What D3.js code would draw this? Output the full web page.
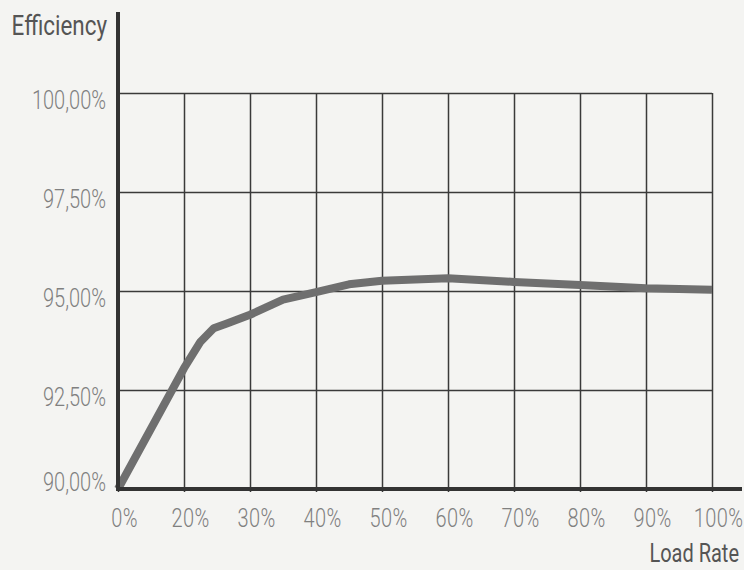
<!DOCTYPE html>
<html>
<head>
<meta charset="utf-8">
<script src="https://cdn.jsdelivr.net/npm/d3@7"></script>
<style>
  body { margin: 0; background: #f4f4f2; }
  svg { display: block; font-family: Roboto, "Noto Sans", sans-serif; }
</style>
</head>
<body>
<svg id="chart" width="744" height="570"></svg>
<script>
// ── Data ─────────────────────────────────────────────────────────────────────
const loadRate   = [0, 20, 22.5, 24.5, 26.5, 30, 35, 40, 45, 50, 60, 70, 80, 90, 100];
const efficiency = [90.0, 93.05, 93.72, 94.06, 94.18, 94.4, 94.78, 94.97, 95.17, 95.26, 95.32, 95.23, 95.15, 95.07, 95.03];
const xTicks = [0, 20, 30, 40, 50, 60, 70, 80, 90, 100];
const yTicks = [90, 92.5, 95, 97.5, 100];

// ── Layout ───────────────────────────────────────────────────────────────────
const plotLeft = 118, plotRight = 712, plotTop = 93, plotBottom = 489;
const squeeze = 0.8; // the original type is a condensed face
const svg = d3.select("#chart");

// The axis puts 0% one step before 20%, then 10% per step
const x = d3.scaleLinear()
  .domain([0, 20, 100])
  .range([plotLeft, plotLeft + (plotRight - plotLeft) / 9, plotRight]);
const y = d3.scaleLinear().domain([90, 100]).range([plotBottom, plotTop]);

const comma = d3.formatLocale({ decimal: ",", thousands: ".", grouping: [3], currency: ["", ""] });
const yFmt = (d) => comma.format(".2f")(d) + "%";

// ── Grid + tick labels ───────────────────────────────────────────────────────
const gx = svg.append("g")
  .attr("transform", `translate(0,${plotBottom})`)
  .call(d3.axisBottom(x).tickValues(xTicks).tickSize(-(plotBottom - plotTop)).tickSizeOuter(0).tickFormat((d) => d + "%"));
gx.attr("font-family", null).attr("font-size", null);
gx.select(".domain").remove();
gx.selectAll(".tick line").attr("stroke", "#3a3a3a").attr("stroke-width", 1.5).attr("y1", 3);
gx.selectAll(".tick text")
  .attr("x", 0).attr("y", 0).attr("dy", 0)
  .attr("transform", `translate(6,38) scale(${squeeze},1)`)
  .attr("fill", "#808080").attr("font-size", 25).attr("font-weight", 300)
  .attr("letter-spacing", 0.5);

const gy = svg.append("g")
  .attr("transform", `translate(${plotLeft},0)`)
  .call(d3.axisLeft(y).tickValues(yTicks).tickSize(-(plotRight - plotLeft)).tickSizeOuter(0).tickFormat(yFmt));
gy.attr("font-family", null).attr("font-size", null);
gy.select(".domain").remove();
gy.selectAll(".tick line").attr("stroke", "#3a3a3a").attr("stroke-width", 1.5);
gy.selectAll(".tick text")
  .attr("x", 0).attr("y", 0).attr("dy", 0)
  .attr("transform", (d) => `translate(-12,${d === 90 ? 1 : 15}) scale(${squeeze},1)`)
  .attr("fill", "#808080").attr("font-size", 25).attr("font-weight", 300);

// ── Efficiency curve ─────────────────────────────────────────────────────────
const line = d3.line().x((d) => x(d[0])).y((d) => y(d[1]));
svg.append("path")
  .datum(d3.zip(loadRate, efficiency))
  .attr("d", line)
  .attr("fill", "none")
  .attr("stroke", "#6f6f6f")
  .attr("stroke-width", 8)
  .attr("stroke-linejoin", "round");

// ── Heavy axis lines ─────────────────────────────────────────────────────────
svg.append("line")
  .attr("x1", plotLeft).attr("x2", plotLeft).attr("y1", 12).attr("y2", plotBottom + 2)
  .attr("stroke", "#333").attr("stroke-width", 4);
svg.append("line")
  .attr("x1", plotLeft - 2).attr("x2", 742).attr("y1", plotBottom).attr("y2", plotBottom)
  .attr("stroke", "#333").attr("stroke-width", 4);

// ── Axis titles ──────────────────────────────────────────────────────────────
svg.append("text")
  .attr("transform", `translate(107,35) scale(${squeeze},1)`)
  .attr("text-anchor", "end")
  .attr("font-size", 28).attr("fill", "#555")
  .text("Efficiency");
svg.append("text")
  .attr("transform", `translate(739,562) scale(${squeeze},1)`)
  .attr("text-anchor", "end")
  .attr("font-size", 25).attr("fill", "#555")
  .text("Load Rate");
</script>
</body>
</html>
